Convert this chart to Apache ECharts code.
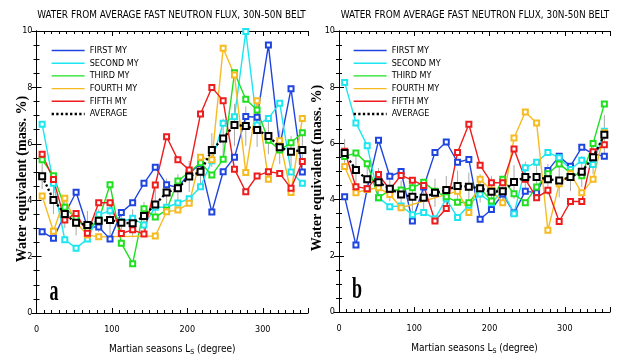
<!DOCTYPE html>
<html>
<head>
<meta charset="utf-8">
<script src="https://cdn.jsdelivr.net/npm/echarts@6/dist/echarts.min.js"></script>
<style>
html, body { margin: 0; padding: 0; background: #fff; }
#chart { width: 618px; height: 355px; }
</style>
</head>
<body>
<div id="chart"></div>
<script>
// Ls bin centres (degree)
const ls = [7.5, 22.5, 37.5, 52.5, 67.5, 82.5, 97.5, 112.5, 127.5, 142.5, 157.5, 172.5,
            187.5, 202.5, 217.5, 232.5, 247.5, 262.5, 277.5, 292.5, 307.5, 322.5, 337.5, 352.5];

const names = ['FIRST MY', 'SECOND MY', 'THIRD MY', 'FOURTH MY', 'FIFTH MY', 'AVERAGE'];
const colors = ['#1f45e0', '#1de6f0', '#1ee01e', '#f7bb22', '#ee1c1c', '#000000'];
const panelTitle = 'WATER FROM AVERAGE FAST NEUTRON FLUX, 30N-50N BELT';
const yName = 'Water equivalent (mass. %)';

// Panel a
const firstA  = [2.88, 2.65, 3.5, 4.28, 3.05, 3.05, 2.62, 3.56, 3.91, 4.6, 5.17, 4.55, 4.45, 4.95, 5.3, 3.58, 5.01, 5.52, 6.97, 6.94, 9.5, 5.9, 7.95, 5.0];
const secondA = [6.69, 4.6, 2.6, 2.3, 2.62, 3.48, 3.63, 3.24, 3.36, 3.12, 3.75, 3.75, 3.9, 4.05, 4.48, 5.4, 6.73, 6.96, 9.98, 6.67, 6.9, 7.44, 5.0, 4.6];
const thirdA  = [5.43, 4.87, 3.75, 3.35, 2.97, 3.3, 4.55, 2.47, 1.75, 3.7, 3.4, 3.65, 4.68, 5.0, 5.33, 4.89, 5.45, 8.52, 7.58, 7.2, 6.13, 5.78, 6.04, 6.39];
const fourthA = [4.15, 2.9, 4.07, 3.2, 2.77, 2.7, null, null, null, null, 2.73, 3.59, 3.65, 3.89, 5.52, 5.43, 9.39, 8.44, 4.98, 7.53, 4.74, 6.11, 4.27, 6.9];
const fifthA  = [5.63, 4.73, 3.3, 3.53, 2.83, 3.91, 3.91, 2.82, 2.95, 2.8, 4.54, 6.25, 5.43, 5.07, 7.06, 8.0, 7.53, 5.1, 4.3, 4.86, 5.01, 4.95, 4.42, 5.37];
const avgA    = [4.85, 4.01, 3.51, 3.2, 3.12, 3.27, 3.3, 3.2, 3.18, 3.44, 3.85, 4.27, 4.42, 4.84, 5.01, 5.78, 6.19, 6.67, 6.63, 6.49, 6.28, 5.88, 5.72, 5.78];
const errA    = [0.45, 0.5, 0.5, 0.45, 0.5, 0.4, 0.55, 0.45, 0.5, 0.5, 0.55, 0.5, 0.5, 0.55, 0.6, 0.6, 0.7, 0.75, 0.7, 0.6, 0.65, 0.6, 0.55, 0.6];

// Panel b
const firstB  = [4.1, 2.38, 4.39, 6.11, 4.83, 5.0, 3.24, 4.45, 5.68, 6.05, 5.33, 5.43, 3.3, 3.65, 4.2, 3.52, 4.3, 4.24, 5.04, 5.54, 5.19, 5.86, 5.63, 5.54];
const secondB = [8.17, 6.73, 5.92, 4.07, 3.75, 3.77, 3.46, 3.54, 3.32, 4.03, 3.36, 3.8, 4.2, 3.89, 4.3, 3.5, 5.13, 5.33, 5.68, 5.49, 5.07, 5.4, 5.25, 6.43];
const thirdB  = [5.53, 5.66, 5.28, 4.07, 4.34, 4.34, 4.42, 4.62, 4.3, 4.1, 3.91, 3.89, 4.4, 3.95, 4.72, 4.21, 3.89, 4.45, 4.92, 5.27, 4.95, 4.85, 6.0, 7.4];
const fourthB = [5.18, 4.24, 4.36, 4.42, 4.18, 3.71, null, null, null, null, 4.3, 3.54, 4.72, 4.33, 3.89, 6.19, 7.12, 6.73, 2.91, 4.56, 4.92, 4.24, 4.72, 6.38];
const fifthB  = [5.72, 4.46, 4.39, 4.89, 4.36, 4.86, 4.69, 4.5, 3.24, 3.68, 5.68, 6.68, 5.22, 4.6, 4.6, 5.8, 4.72, 4.07, 4.33, 3.22, 3.93, 3.93, 5.7, 5.95];
const avgB    = [5.66, 5.05, 4.72, 4.62, 4.39, 4.18, 4.1, 4.07, 4.24, 4.34, 4.48, 4.46, 4.4, 4.28, 4.3, 4.63, 4.8, 4.8, 4.72, 4.68, 4.8, 4.99, 5.51, 6.31];
const errB    = [0.5, 0.55, 0.5, 0.5, 0.45, 0.5, 0.5, 0.55, 0.5, 0.5, 0.55, 0.5, 0.5, 0.55, 0.5, 0.6, 0.55, 0.5, 0.55, 0.6, 0.5, 0.55, 0.6, 0.7];

const panels = [
    { label: 'a', series: [firstA, secondA, thirdA, fourthA, fifthA, avgA], err: errA },
    { label: 'b', series: [firstB, secondB, thirdB, fourthB, fifthB, avgB], err: errB }
];

const NARROW = '"Liberation Sans Narrow", "DejaVu Sans Condensed", "Liberation Sans", sans-serif';
const SERIF = '"Liberation Serif", "DejaVu Serif", serif';

const grids = [
    { left: 36.5, top: 31, width: 271.5, height: 282 },
    { left: 339, top: 31, width: 271, height: 281 }
];

const chart = echarts.init(document.getElementById('chart'), null, { renderer: 'canvas' });

const black = { color: '#000', width: 1 };
const xAxes = [];
const yAxes = [];
grids.forEach((g, gi) => {
    // bottom axis with labels and major ticks
    xAxes.push({
        gridIndex: gi, type: 'value', min: 0, max: 360, interval: 100, position: 'bottom',
        axisLine: { show: true, lineStyle: black },
        axisTick: { show: true, inside: true, length: 5, lineStyle: black },
        axisLabel: {
            margin: 12, fontSize: 9, fontFamily: NARROW, color: '#000',
            formatter: v => (v % 100 === 0 && v < 360 ? String(v) : '')
        },
        splitLine: { show: false },
        name: 'Martian seasons L{s|S} (degree)',
        nameLocation: 'middle', nameGap: 30,
        nameTextStyle: {
            fontSize: 10, fontFamily: NARROW, color: '#000',
            rich: { s: { fontSize: 7, fontFamily: NARROW, color: '#000', padding: [6, 0, 0, 0] } }
        }
    });
    // bottom minor ticks
    xAxes.push({
        gridIndex: gi, type: 'value', min: 0, max: 360, interval: 10, position: 'bottom',
        axisLine: { show: false }, axisLabel: { show: false }, splitLine: { show: false },
        axisTick: { show: true, inside: true, length: 3, lineStyle: black }
    });
    // top frame
    xAxes.push({
        gridIndex: gi, type: 'value', min: 0, max: 360, interval: 100, position: 'top',
        axisLine: { show: true, lineStyle: black }, axisLabel: { show: false }, splitLine: { show: false },
        axisTick: { show: true, inside: true, length: 5, lineStyle: black }
    });
    xAxes.push({
        gridIndex: gi, type: 'value', min: 0, max: 360, interval: 10, position: 'top',
        axisLine: { show: false }, axisLabel: { show: false }, splitLine: { show: false },
        axisTick: { show: true, inside: true, length: 3, lineStyle: black }
    });
    const yBase = {
        gridIndex: gi, type: 'value', min: 0, max: 10, interval: 2,
        axisLine: { show: true, lineStyle: black },
        axisTick: { show: true, inside: true, length: 5, lineStyle: black },
        minorTick: { show: true, splitNumber: 4, length: 3, lineStyle: black },
        splitLine: { show: false }, minorSplitLine: { show: false }
    };
    yAxes.push(Object.assign({}, yBase, {
        position: 'left',
        axisLabel: { margin: 4, fontSize: 9, fontFamily: NARROW, color: '#000' }
    }));
    yAxes.push(Object.assign({}, yBase, { position: 'right', axisLabel: { show: false } }));
});

const series = [];
panels.forEach((p, gi) => {
    const xi = gi * 4, yi = gi * 2;
    const avg = p.series[5];
    // error bars on the average
    series.push({
        type: 'custom', xAxisIndex: xi, yAxisIndex: yi, silent: true, z: 1,
        data: ls.map((x, i) => [x, avg[i] - p.err[i], avg[i] + p.err[i]]),
        encode: { x: 0, y: [1, 2] },
        renderItem: (params, api) => {
            const a = api.coord([api.value(0), api.value(1)]);
            const b = api.coord([api.value(0), api.value(2)]);
            return { type: 'line', shape: { x1: a[0], y1: a[1], x2: b[0], y2: b[1] },
                     style: { stroke: '#a8a8a8', lineWidth: 1 } };
        }
    });
    p.series.forEach((vals, si) => {
        const isAvg = si === 5;
        series.push({
            name: names[si], type: 'line', xAxisIndex: xi, yAxisIndex: yi,
            data: ls.map((x, i) => [x, vals[i]]),
            connectNulls: true,
            symbol: 'emptyRect',
            symbolSize: isAvg ? 6 : 5,
            showAllSymbol: true,
            z: isAvg ? 5 : 3,
            lineStyle: isAvg ? { color: '#000', width: 2.3, type: 'dotted' } : { color: colors[si], width: 1.4 },
            itemStyle: { color: colors[si], borderWidth: isAvg ? 2 : 1 },
            emphasis: { disabled: true },
            animation: false
        });
    });
});

const legendBase = {
    orient: 'vertical', top: 45, padding: 0,
    itemWidth: 33, itemHeight: 4, itemGap: 1.7,
    data: names,
    textStyle: { fontSize: 9, fontFamily: NARROW, color: '#000', lineHeight: 11 },
    itemStyle: { opacity: 0 },
    lineStyle: { width: 'inherit' },
    selectedMode: false
};

const titleStyle = { text: panelTitle, font: '11px ' + NARROW, fill: '#000', align: 'center', verticalAlign: 'middle' };

const option = {
    animation: false,
    backgroundColor: '#fff',
    grid: grids.map(g => Object.assign({ outerBoundsMode: 'none', containLabel: false }, g)),
    xAxis: xAxes,
    yAxis: yAxes,
    legend: [
        Object.assign({}, legendBase, { left: 50.5 }),
        Object.assign({}, legendBase, { left: 352.5 })
    ],
    graphic: [
        { type: 'text', x: 171.5, y: 15, scaleX: 0.9, style: titleStyle },
        { type: 'text', x: 475, y: 15, scaleX: 0.9, style: titleStyle },
        { type: 'text', x: 22.5, y: 179, rotation: Math.PI / 2, style: { text: yName, font: 'bold 14px ' + SERIF, fill: '#000', align: 'center', verticalAlign: 'middle' } },
        { type: 'text', x: 317.5, y: 168, rotation: Math.PI / 2, style: { text: yName, font: 'bold 14px ' + SERIF, fill: '#000', align: 'center', verticalAlign: 'middle' } },
        { type: 'text', x: 54, y: 292, scaleX: 0.6, style: { text: panels[0].label, font: 'bold 30px ' + SERIF, fill: '#000', align: 'center', verticalAlign: 'middle' } },
        { type: 'text', x: 357, y: 290, scaleX: 0.6, style: { text: panels[1].label, font: 'bold 30px ' + SERIF, fill: '#000', align: 'center', verticalAlign: 'middle' } }
    ],
    series: series
};

chart.setOption(option);
</script>
</body>
</html>
